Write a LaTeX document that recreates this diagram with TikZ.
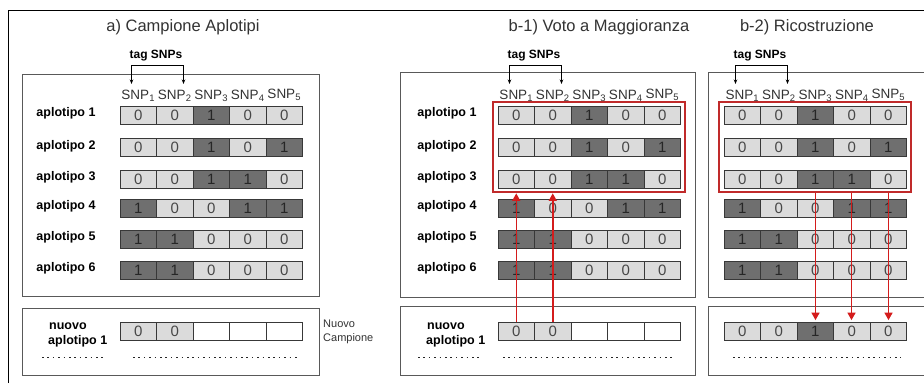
\documentclass[tikz,border=0pt]{standalone}
\usepackage{fontspec}
\setmainfont{Liberation Sans}
\usetikzlibrary{arrows.meta,fit}
\definecolor{lightg}{HTML}{DBDBDB}
\definecolor{darkg}{HTML}{6F6F6F}
\definecolor{edgeg}{HTML}{383838}
\definecolor{boxred}{HTML}{C02A2A}
\definecolor{arrred}{HTML}{D41C1C}
\tikzset{
  cellbase/.style={draw=edgeg, line width=0.8pt, minimum width=36.5pt, minimum height=18pt,
    inner sep=0pt, font=\fontsize{15}{15}\selectfont, text=black!72},
  cell0/.style={cellbase, fill=lightg},
  cell1/.style={cellbase, fill=darkg, text=black!85},
  cellE/.style={cellbase, fill=white},
  panelbox/.style={draw=black!65, line width=0.9pt},
  frameline/.style={draw=black, line width=1pt},
  titletext/.style={anchor=base, font=\fontsize{16.5}{16.5}\selectfont, text=black!80},
  tagtext/.style={anchor=base, font=\bfseries\fontsize{12}{12}\selectfont},
  snptext/.style={anchor=base, font=\fontsize{13.5}{13.5}\selectfont, text=black!80, inner sep=0pt},
  rowlab/.style={anchor=base, font=\bfseries\fontsize{12.5}{12.5}\selectfont},
  newlab/.style={anchor=base west, align=left, font=\bfseries\fontsize{12.5}{15}\selectfont, inner sep=0pt},
  sidelab/.style={anchor=base west, align=left, font=\fontsize{11}{14}\selectfont, text=black!80, inner sep=0pt},
  bracket/.style={draw=black, line width=0.8pt, {Stealth[length=4.5pt,width=3.5pt]}-{Stealth[length=4.5pt,width=3.5pt]}},
  redbox/.style={draw=boxred, line width=2pt, inner xsep=4.5pt, inner ysep=4pt},
  redarr/.style={draw=arrred, line width=1.5pt, -{Triangle[length=7.5pt,width=8pt]}},
  dotline/.style={draw=black!85, line width=1.6pt, dash pattern=on 1.6pt off 3.8pt}
}
\def\emptymark{e}
\newcommand\hrow[4]{%
  \foreach \val [count=\col] in {#4}{%
    \pgfmathsetmacro\xx{#2+(\col-0.5)*36.5}%
    \ifx\val\emptymark
      \node[cellE] (#1-\col) at (\xx,#3) {};
    \else
      \node[cell\val] (#1-\col) at (\xx,#3) {\val};
    \fi
  }}
\begin{document}
\begin{tikzpicture}[x=1pt,y=-1pt]
\useasboundingbox (0,0) rectangle (924,383);
\fill[white] (0,0) rectangle (924,383);
% outer frame
\draw[frameline] (8,383) -- (8,10) -- (924,10);
% panel boxes
\draw[panelbox] (22,74) rectangle (319,296);
\draw[panelbox] (22,308) rectangle (319,375);
\draw[panelbox] (400,72) rectangle (695,297);
\draw[panelbox] (400,306) rectangle (695,375);
\draw[panelbox] (924,72) -- (708,72) -- (708,297) -- (924,297);
\draw[panelbox] (924,306) -- (708,306) -- (708,375) -- (924,375);
% titles
\node[titletext] (ta) at (183,31.5) {a) Campione Aplotipi};
\node[titletext] (tb) at (599,31.5) {b-1) Voto a Maggioranza};
\node[titletext] (tc) at (807,31.5) {b-2) Ricostruzione};
% three panels of haplotypes
\foreach \p/\x in {a/120, b/498, c/724}{
  \hrow{\p1}{\x}{115}{0,0,1,0,0}
  \hrow{\p2}{\x}{147.5}{0,0,1,0,1}
  \hrow{\p3}{\x}{179}{0,0,1,1,0}
  \hrow{\p4}{\x}{208}{1,0,0,1,1}
  \hrow{\p5}{\x}{239}{1,1,0,0,0}
  \hrow{\p6}{\x}{270}{1,1,0,0,0}
  \foreach \i in {1,...,4}{
    \node[snptext] (\p s\i) at ({\x+(\i-0.5)*36.5},99.5) {SNP\textsubscript{\i}};
  }
  \node[snptext] (\p s5) at ({\x+4.5*36.5},98) {SNP\textsubscript{5}};
  \node[tagtext] (\p tag) at (\x+36,58) {tag SNPs};
  \coordinate (\p t1) at (\x+11.5,84);
  \coordinate (\p t2) at (\x+63.5,84);
  \draw[bracket] (\p t1) -- ++(0,-19) -| (\p t2);
}
% new haplotype rows
\hrow{an}{120}{331}{0,0,e,e,e}
\hrow{bn}{498}{331}{0,0,e,e,e}
\hrow{cn}{724}{331}{0,0,1,0,0}
% row labels
\foreach \r/\y in {1/115,2/147.5,3/179,4/208,5/239,6/270}{
  \node[rowlab] (la\r) at (66,\y+1.5) {aplotipo \r};
  \node[rowlab] (lb\r) at (447,\y+1.5) {aplotipo \r};
}
\node[newlab] (nla) at (48,344) {\hspace*{1pt}nuovo\\aplotipo 1};
\node[newlab] (nlb) at (426,344) {\hspace*{1pt}nuovo\\aplotipo 1};
\node[sidelab] (nuovo) at (323,341) {Nuovo\\Campione};
% dotted continuation lines
\draw[dotline] (42,357.5) -- (103,357.5);
\draw[dotline] (133,357.5) -- (299,357.5);
\draw[dotline] (418,357.5) -- (479,357.5);
\draw[dotline] (503,357.5) -- (673,357.5);
\draw[dotline] (733,357.5) -- (901,357.5);
% red boxes
\node[redbox, fit=(b1-1)(b3-5)] (bred) {};
\node[redbox, fit=(c1-1)(c3-5)] (cred) {};
% red arrows
\draw[redarr] (bn-1.north) -- (bn-1.north |- bred.south);
\draw[redarr] (bn-2.north) -- (bn-2.north |- bred.south);
\foreach \k/\dx in {3/0.25,4/-0.25,5/0.25}{
  \draw[redarr, shorten >=1.5pt] ([xshift=\dx pt]cn-\k.north |- cred.south) -- ([xshift=\dx pt]cn-\k.north);
}
\end{tikzpicture}
\end{document}
